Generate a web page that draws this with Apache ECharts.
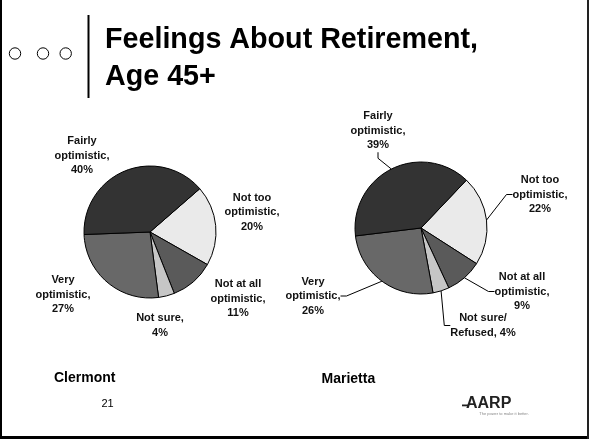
<!DOCTYPE html>
<html>
<head>
<meta charset="utf-8">
<script src="https://cdn.jsdelivr.net/npm/echarts@6/dist/echarts.min.js"></script>
<style>
html,body{margin:0;padding:0;background:#fff;}
#chart{width:589px;height:444px;}
</style>
</head>
<body>
<div id="chart"></div>
<script>
// ---- data ----
var titleLines = ['Feelings About Retirement,', 'Age 45+'];
var categories = ['Not too optimistic', 'Not at all optimistic', 'Not sure', 'Very optimistic', 'Fairly optimistic'];
var clermontLabels = ['Not too\noptimistic,', 'Not at all\noptimistic,', 'Not sure,', 'Very\noptimistic,', 'Fairly\noptimistic,'];
var clermontValues = [20, 11, 4, 27, 40];
var mariettaLabels = ['Not too\noptimistic,', 'Not at all\noptimistic,', 'Not sure/\nRefused,', 'Very\noptimistic,', 'Fairly\noptimistic,'];
var mariettaValues = [22, 9, 4, 26, 39];
var pieNames = ['Clermont', 'Marietta'];
var pageNumber = '21';

// ---- styles / layout ----
var sliceColors = ['#eaeaea', '#5a5a5a', '#c6c6c6', '#686868', '#333333'];
var FONT = '"Liberation Sans", Arial, sans-serif';
var leftLabelPos = [[252, 212], [238, 298.5], [160, 325.5], [63, 294.5], [82, 155.5]];
var rightLabelPos = [[540, 194.5], [522, 291.5], [483, 325.5], [313, 296], [378, 130.5]];

function buildData(labels, values) {
  return values.map(function (v, i) {
    return { name: labels[i], value: v, itemStyle: { color: sliceColors[i] } };
  });
}
function fmt(p) {
  var sep = /Refused,$/.test(p.name) ? ' ' : '\n';
  return p.name + sep + p.value + '%';
}
var labelStyle = {
  show: true,
  formatter: fmt,
  fontFamily: FONT,
  fontWeight: 'bold',
  fontSize: 11,
  lineHeight: 14.5,
  color: '#111',
  align: 'center'
};

var chart = echarts.init(document.getElementById('chart'), null, { renderer: 'canvas' });
chart.setOption({
  animation: false,
  backgroundColor: '#ffffff',
  graphic: [
    // slide frame
    { type: 'rect', shape: { x: 0, y: 0, width: 2, height: 439 }, style: { fill: '#000' } },
    { type: 'rect', shape: { x: 0, y: 436, width: 589, height: 3 }, style: { fill: '#000' } },
    { type: 'rect', shape: { x: 587, y: 0, width: 2, height: 439 }, style: { fill: '#222' } },
    // title decorations
    { type: 'circle', shape: { cx: 15, cy: 53.5, r: 5.7 }, style: { fill: '#fff', stroke: '#000', lineWidth: 1 } },
    { type: 'circle', shape: { cx: 43, cy: 53.5, r: 5.7 }, style: { fill: '#fff', stroke: '#000', lineWidth: 1 } },
    { type: 'circle', shape: { cx: 65.7, cy: 53.5, r: 5.7 }, style: { fill: '#fff', stroke: '#000', lineWidth: 1 } },
    { type: 'rect', shape: { x: 87.5, y: 15, width: 2, height: 83 }, style: { fill: '#000' } },
    { type: 'text', x: 105, y: 40, style: { text: titleLines[0], font: 'bold 28.7px ' + FONT, fill: '#000', textVerticalAlign: 'middle' } },
    { type: 'text', x: 105, y: 77, style: { text: titleLines[1], font: 'bold 28.7px ' + FONT, fill: '#000', textVerticalAlign: 'middle' } },
    // pie names
    { type: 'text', x: 54, y: 378.5, style: { text: pieNames[0], font: 'bold 14px ' + FONT, fill: '#000', textVerticalAlign: 'middle' } },
    { type: 'text', x: 321.5, y: 379.5, style: { text: pieNames[1], font: 'bold 14px ' + FONT, fill: '#000', textVerticalAlign: 'middle' } },
    // page number
    { type: 'text', x: 107.5, y: 404, style: { text: pageNumber, font: '11px ' + FONT, fill: '#000', textAlign: 'center', textVerticalAlign: 'middle' } },
    // AARP logo
    { type: 'rect', shape: { x: 462, y: 404.5, width: 6, height: 1.8 }, style: { fill: '#222' } },
    { type: 'text', x: 466, y: 403.5, style: { text: 'AARP', font: '900 16px ' + FONT, fill: '#222', textVerticalAlign: 'middle' } },
    { type: 'text', x: 504, y: 413.5, style: { text: 'The power to make it better.', font: '4px ' + FONT, fill: '#888', textAlign: 'center', textVerticalAlign: 'middle' } }
  ],
  series: [
    {
      type: 'pie',
      name: pieNames[0],
      center: [150, 232],
      radius: 66,
      startAngle: 41,
      clockwise: true,
      avoidLabelOverlap: false,
      itemStyle: { borderColor: '#000', borderWidth: 1 },
      label: labelStyle,
      labelLine: { show: false },
      labelLayout: function (p) {
        var pos = leftLabelPos[p.dataIndex];
        return { x: pos[0], y: pos[1], align: 'center', verticalAlign: 'middle' };
      },
      emphasis: { disabled: true },
      data: buildData(clermontLabels, clermontValues)
    },
    {
      type: 'pie',
      name: pieNames[1],
      center: [421, 228],
      radius: 66,
      startAngle: 46.5,
      clockwise: true,
      avoidLabelOverlap: false,
      itemStyle: { borderColor: '#000', borderWidth: 1 },
      label: labelStyle,
      labelLine: { show: true, length: 10, length2: 6, lineStyle: { color: '#000', width: 1 } },
      labelLayout: function (p) {
        var pos = rightLabelPos[p.dataIndex];
        return { x: pos[0], y: pos[1], align: 'center', verticalAlign: 'middle' };
      },
      emphasis: { disabled: true },
      data: buildData(mariettaLabels, mariettaValues)
    }
  ]
});
</script>
</body>
</html>
